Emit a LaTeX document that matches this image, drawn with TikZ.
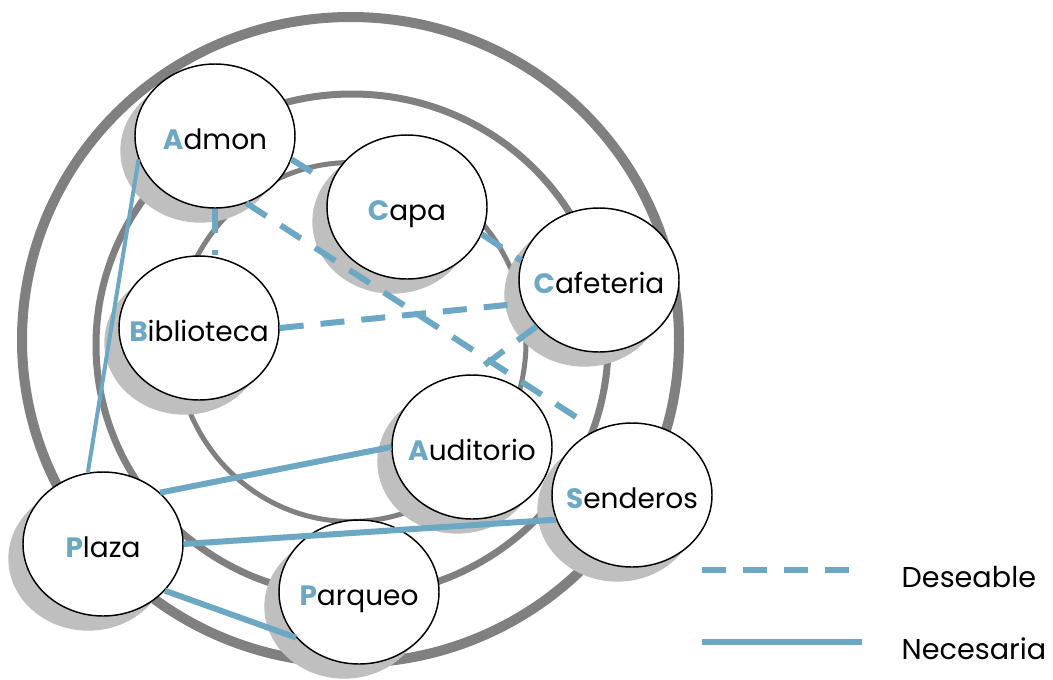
\documentclass[tikz,border=0pt]{standalone}
\usepackage{fontspec}
\setmainfont{Poppins}
\usepackage{tikz}
\usetikzlibrary{shapes.geometric, shadows}
\definecolor{linea}{RGB}{108,168,196}
\definecolor{anillo}{RGB}{128,128,128}
\definecolor{sombra}{RGB}{191,191,191}
\newcommand{\inicial}[1]{{\bfseries\color{linea}#1}}

\begin{document}
\begin{tikzpicture}[x=0.75pt, y=-0.75pt,
   lugar/.style={ellipse, draw, line width=1.1pt, fill=white, inner ysep=0pt, inner xsep=-25pt,
      minimum width=120pt, minimum height=108pt, text height=20pt, text depth=0pt,
      font=\fontsize{21}{25}\selectfont,
      drop shadow={shadow xshift=-11pt, shadow yshift=-11pt, fill=sombra, opacity=1}},
   deseable/.style={draw, color=linea, line width=4.5pt, dash pattern=on 18pt off 12.75pt},
   necesaria/.style={draw, color=linea, line width=4.5pt},
   leyenda/.style={anchor=base west, font=\fontsize{21.5}{25}\selectfont}]
   \useasboundingbox (0,0) rectangle (1053,679);
   % anillos
   \draw[anillo, line width=7.5pt] (350.5,340) ellipse [x radius=328.5, y radius=323];
   \draw[anillo, line width=5.25pt] (352,345) ellipse [x radius=256, y radius=251];
   \draw[anillo, line width=3.75pt] (351,342) ellipse [x radius=175, y radius=179.5];
   % lugares
   \node[lugar] (admon)      at (215,136) {\inicial{A}dmon};
   \node[lugar] (capa)       at (407,207) {\inicial{C}apa};
   \node[lugar] (cafeteria)  at (599,280) {\inicial{C}afeteria};
   \node[lugar] (biblioteca) at (199,328) {\inicial{B}iblioteca};
   \node[lugar] (auditorio)  at (472,447) {\inicial{A}uditorio};
   \node[lugar] (senderos)   at (632,495) {\inicial{S}enderos};
   \node[lugar] (plaza)      at (103,544) {\inicial{P}laza};
   \node[lugar] (parqueo)    at (359,592) {\inicial{P}arqueo};
   % relaciones
   \path[deseable]
    (admon.-17) edge [shorten >=5pt] (capa.163)
    (admon.south) edge (admon.south |- biblioteca.north)
    (admon.-65) edge [shorten >=10pt] (senderos.119)
    (capa.-20) edge (cafeteria.166)
    (biblioteca.east) edge (cafeteria.197)
    (cafeteria) edge (auditorio.north)
    ;
   \path[necesaria]
    (admon.197) edge [line width=3pt] (plaza.102)
    (plaza.42) edge (auditorio.west)
    (plaza.east) edge (senderos.198)
    (plaza.-37) edge (parqueo.216)
    ;
   % leyenda
   \coordinate (d_0) at (702,570);
   \coordinate (d_1) at (852,570);
   \coordinate (n_0) at (702,642);
   \coordinate (n_1) at (862,642);
   \draw[deseable] (d_0) -- (d_1);
   \draw[necesaria] (n_0) -- (n_1);
   \node[leyenda] (deseable)  at (897,587) {Deseable};
   \node[leyenda] (necesaria) at (897,659) {Necesaria};
\end{tikzpicture}
\end{document}
